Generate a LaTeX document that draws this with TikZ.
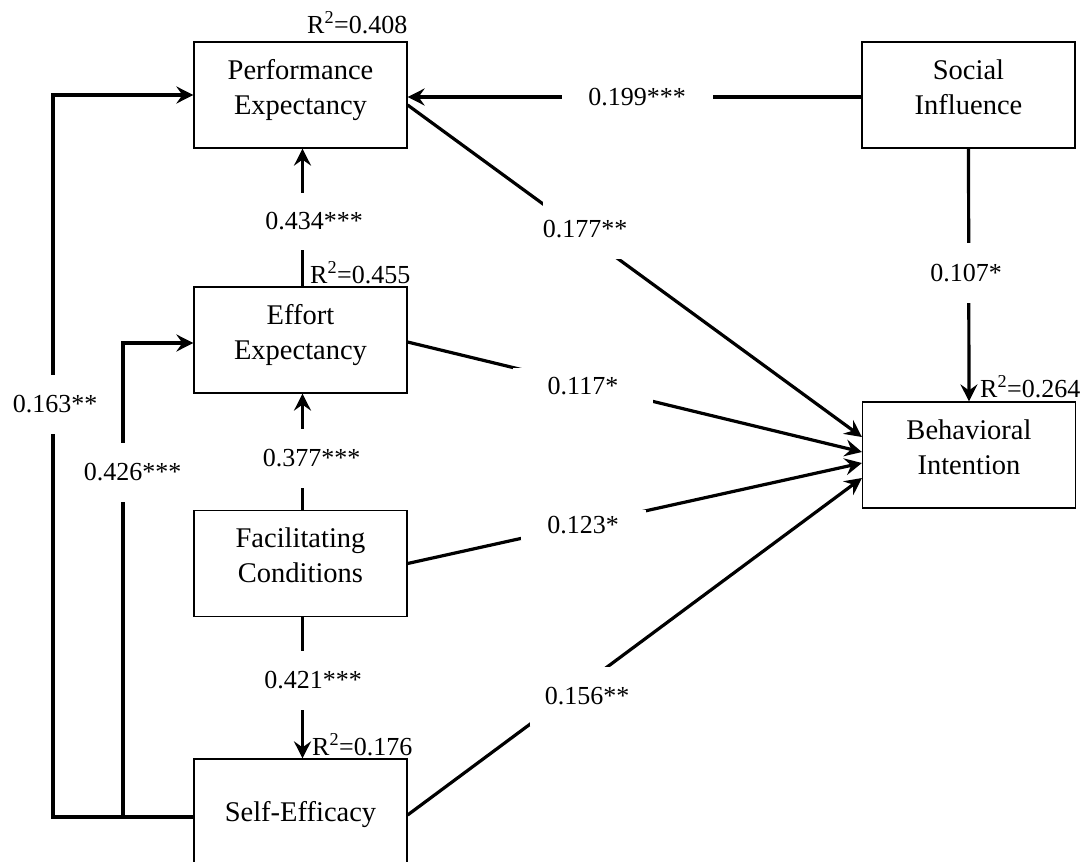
\documentclass[tikz,border=0pt]{standalone}
\usepackage{fontspec}
\setmainfont{Liberation Serif}
\usetikzlibrary{arrows.meta,calc}
\begin{document}
\begin{tikzpicture}[x=1pt,y=-1pt,
  box/.style={draw, line width=1.2pt, minimum width=213pt, minimum height=106pt, inner sep=0pt, align=center, font=\fontsize{28.5}{35}\selectfont, text height=54pt, text depth=16pt},
  onebox/.style={box, text height=19pt, text depth=0pt},
  lbl/.style={fill=white, inner sep=0pt, font=\fontsize{26}{30}\selectfont},
  rsq/.style={anchor=base west, inner sep=0pt, font=\fontsize{26}{30}\selectfont},
  arr/.style={line width=3.2pt, -{Stealth[length=17pt,width=17pt,inset=6pt]}}]
\useasboundingbox (0,0) rectangle (1087,862);
\fill[white] (0,0) rectangle (1087,862);
% boxes
\node[box] (PE) at (300.5,95) {Performance\\Expectancy};
\node[box] (SI) at (968.5,95) {Social\\Influence};
\node[box] (EE) at (300.5,340) {Effort\\Expectancy};
\node[box] (BI) at (969,455) {Behavioral\\Intention};
\node[box] (FC) at (300.5,563.5) {Facilitating\\Conditions};
\node[onebox] (SE) at (300.5,812) {Self-Efficacy};
% connectors
\draw[arr] ([yshift=-2pt]SI.west) -- ([yshift=-2pt]PE.east);
\draw[arr] ([yshift=-10pt]PE.east) -- ([yshift=18pt]BI.west);
\draw[arr] ([yshift=-2pt]EE.east) -- ([yshift=3pt]BI.west);
\draw[arr] (FC.east) -- ([yshift=-8pt]BI.west);
\draw[arr] ([yshift=-3pt]SE.east) -- ([yshift=-23pt]BI.west);
\draw[arr] (SI.south) -- (BI.north);
\draw[arr] ([xshift=2pt]EE.north) -- ([xshift=2pt]PE.south);
\draw[arr] ([xshift=2pt]FC.north) -- ([xshift=2pt]EE.south);
\draw[arr] ([xshift=2pt]FC.south) -- ([xshift=2pt]SE.north);
\coordinate (peloop) at (53,95);
\coordinate (eeloop) at (123,343);
\draw[arr] ([yshift=-5pt]SE.west) -| (peloop) -- (PE.west);
\draw[arr] ([yshift=-5pt]SE.west) -| (eeloop) -- ([yshift=-3pt]EE.west);
% path coefficients
\node[lbl, minimum width=151pt] (l199) at (637,97) {0.199***};
\node[lbl, minimum height=60pt] (l177) at (585,229) {0.177**};
\node[lbl, minimum width=140pt, minimum height=36pt] (l117) at (583,386) {0.117*};
\node[lbl, minimum width=125pt, minimum height=30pt] (l123) at (583,525) {0.123*};
\node[lbl, minimum width=114pt, minimum height=59pt] (l156) at (587,696.5) {0.156**};
\node[lbl, minimum height=57pt] (l434) at (314,221) {0.434***};
\node[lbl, minimum height=59pt] (l377) at (311.5,458.5) {0.377***};
\node[lbl, minimum height=59pt] (l421) at (313,680.5) {0.421***};
\node[lbl, minimum height=60pt] (l107) at (966,273) {0.107*};
\node[lbl, minimum height=59pt] (l163) at (55,404.5) {0.163**};
\node[lbl, minimum height=59pt] (l426) at (132.5,472.5) {0.426***};
% R squared
\node[rsq] (r1) at (307,33) {R\textsuperscript{2}=0.408};
\node[rsq] (r2) at (310,283) {R\textsuperscript{2}=0.455};
\node[rsq] (r3) at (312,755) {R\textsuperscript{2}=0.176};
\node[rsq] (r4) at (980,397) {R\textsuperscript{2}=0.264};
\end{tikzpicture}
\end{document}
